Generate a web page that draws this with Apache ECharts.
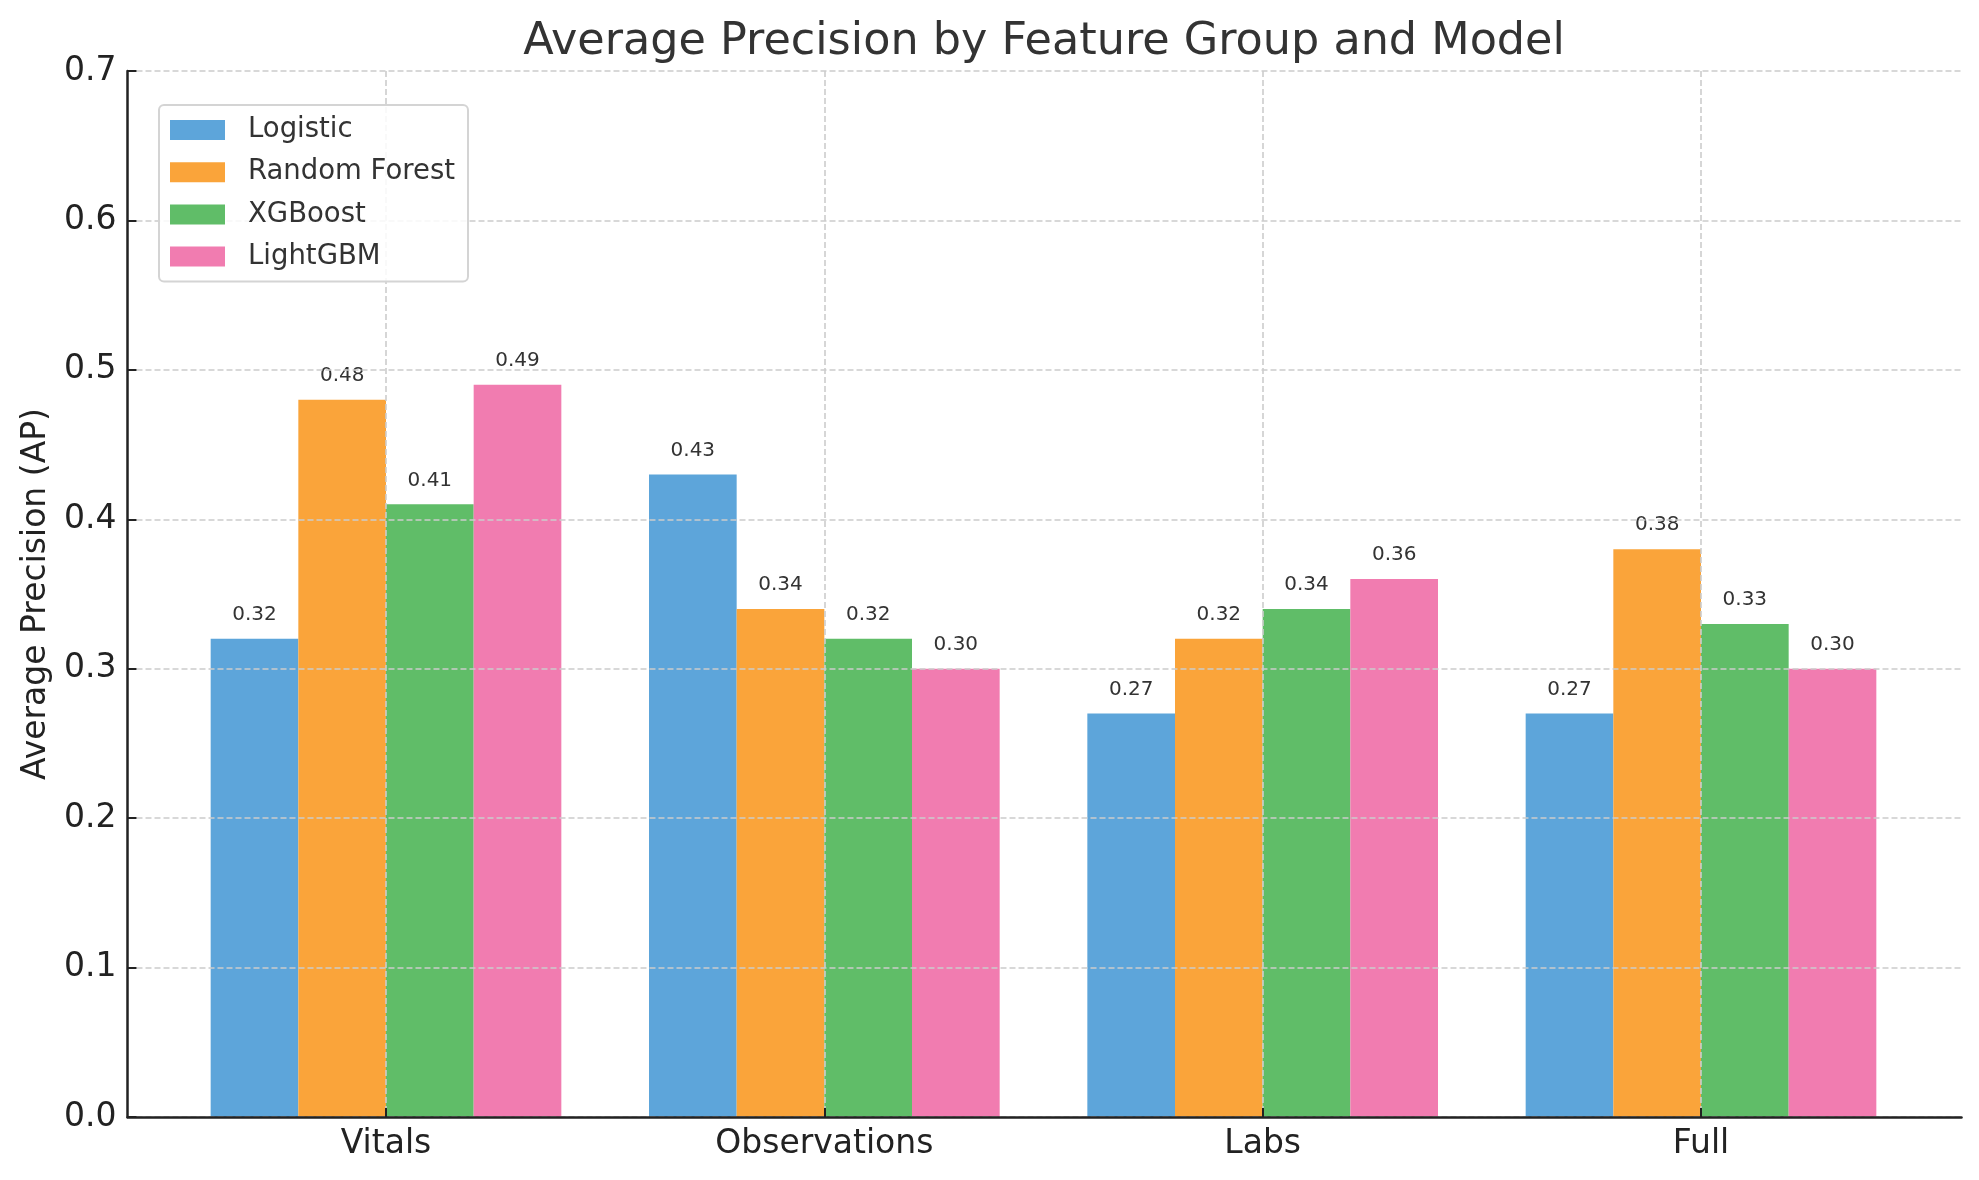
<!DOCTYPE html>
<html>
<head>
<meta charset="utf-8">
<script src="https://cdn.jsdelivr.net/npm/echarts@6/dist/echarts.min.js"></script>
<style>
html,body{margin:0;padding:0;background:#fff;}
#chart{width:1979px;height:1180px;}
</style>
</head>
<body>
<div id="chart"></div>
<script>
const categories = ['Vitals', 'Observations', 'Labs', 'Full'];
const models = ['Logistic', 'Random Forest', 'XGBoost', 'LightGBM'];
const logistic = [0.32, 0.43, 0.27, 0.27];
const randomForest = [0.48, 0.34, 0.32, 0.38];
const xgboost = [0.41, 0.32, 0.34, 0.33];
const lightgbm = [0.49, 0.30, 0.36, 0.30];
const colors = ['#5DA5DA', '#FAA43A', '#60BD68', '#F17CB0'];
const yTicks = [0.0, 0.1, 0.2, 0.3, 0.4, 0.5, 0.6, 0.7];

const seriesValues = [logistic, randomForest, xgboost, lightgbm];
const FONT = 'DejaVu Sans';
const gridDash = {color: '#cccccc', width: 1.6, type: [6, 3]};

const chart = echarts.init(document.getElementById('chart'), null, {renderer: 'canvas'});
const option = {
  backgroundColor: '#ffffff',
  animation: false,
  textStyle: {fontFamily: FONT},
  title: {
    text: 'Average Precision by Feature Group and Model',
    left: 1039, top: 15, textAlign: 'center',
    textStyle: {fontFamily: FONT, fontSize: 44.5, fontWeight: 'normal', color: '#333333'}
  },
  legend: {
    data: models,
    orient: 'vertical',
    left: 159, top: 105,
    padding: [11, 13, 11, 11],
    itemWidth: 55, itemHeight: 20, itemGap: 14.2,
    icon: 'rect',
    backgroundColor: 'rgba(255,255,255,0.85)',
    borderColor: '#d4d4d4', borderWidth: 2, borderRadius: 5,
    textStyle: {fontFamily: FONT, fontSize: 27.5, color: '#333333', padding: [0, 0, 0, 18]},
    z: 10
  },
  grid: [
    {left: 127.5, right: 17.5, top: 71, height: 1046, containLabel: false},
    {left: 386, width: 1315, top: 71, height: 1046, containLabel: false}
  ],
  xAxis: [
    {
      gridIndex: 0, type: 'value', min: 0, max: 1, z: 6,
      axisLine: {show: true, lineStyle: {color: '#222222', width: 2.5}},
      axisTick: {show: false}, axisLabel: {show: false}, splitLine: {show: false}
    },
    {
      gridIndex: 1, type: 'category', data: categories, boundaryGap: false, z: 3,
      axisLine: {show: false},
      axisTick: {show: true, inside: true, length: 9, alignWithLabel: true, interval: 0,
                 lineStyle: {color: '#222222', width: 2}},
      axisLabel: {show: true, interval: 0, margin: 11, fontFamily: FONT, fontSize: 33, color: '#222222'},
      splitLine: {show: true, interval: 0, lineStyle: gridDash}
    }
  ],
  yAxis: [
    {
      gridIndex: 0, type: 'value', min: 0, max: 0.7, interval: 0.1, z: 3,
      name: 'Average Precision (AP)', nameLocation: 'middle', nameGap: 75,
      nameTextStyle: {fontFamily: FONT, fontSize: 33, color: '#222222'},
      axisLine: {show: true, lineStyle: {color: '#222222', width: 2.5}},
      axisTick: {show: true, inside: true, length: 9, lineStyle: {color: '#222222', width: 2}},
      axisLabel: {show: true, margin: 11, fontFamily: FONT, fontSize: 33, color: '#222222',
                  formatter: v => {
                    const t = yTicks.find(x => Math.abs(x - v) < 1e-9);
                    return (t !== undefined ? t : v).toFixed(1);
                  }},
      splitLine: {show: true, lineStyle: gridDash}
    },
    {
      gridIndex: 1, type: 'value', min: 0, max: 0.7, interval: 0.1,
      axisLine: {show: false}, axisTick: {show: false}, axisLabel: {show: false}, splitLine: {show: false}
    }
  ],
  series: models.map((m, i) => ({
    name: m,
    type: 'bar',
    xAxisIndex: 1, yAxisIndex: 1,
    data: seriesValues[i],
    barGap: '0%',
    barCategoryGap: '20%',
    clip: false,
    z: 2,
    itemStyle: {color: colors[i]},
    label: {
      show: true, position: 'top', distance: 14,
      fontFamily: FONT, fontSize: 20, color: '#333333',
      formatter: p => p.value.toFixed(2)
    }
  }))
};
chart.setOption(option);
</script>
</body>
</html>
